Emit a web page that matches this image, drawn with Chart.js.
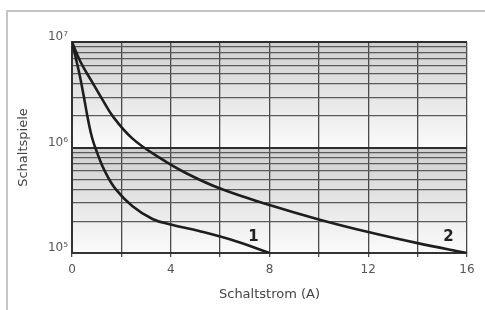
<!DOCTYPE html>
<html>
<head>
<meta charset="utf-8">
<script src="https://cdn.jsdelivr.net/npm/chart.js@4.4.1/dist/chart.umd.min.js"></script>
<style>
  body { margin: 0; background: #fff; }
  #wrap { position: relative; width: 485px; height: 310px; }
  #frame { position: absolute; left: 6px; top: 10px; right: 0; bottom: 0;
           border-top: 2px solid #c4c4c4; border-left: 2px solid #c4c4c4; }
  canvas { position: absolute; left: 0; top: 0; }
</style>
</head>
<body>
<div id="wrap">
  <div id="frame"></div>
  <canvas id="chart" width="485" height="310"></canvas>
</div>
<script>
// Kurve 1 (bis 8 A) und Kurve 2 (bis 16 A)
const current1 = [0, 0.163, 0.327, 0.49, 0.653, 0.816, 1.02, 1.31, 1.76, 2.44, 3.26, 4, 5.22, 6.61, 8];
const cycles1 = [1e7, 6.9e6, 4.66e6, 2.94e6, 1.82e6, 1.23e6, 8.9e5, 6.1e5, 4.05e5, 2.79e5, 2.1e5, 1.86e5, 1.6e5, 1.3e5, 1.0e5];

const current2 = [0, 0.327, 0.776, 1.21, 1.67, 2.44, 3.51, 4.61, 6, 8, 10, 12, 14, 16];
const cycles2 = [1e7, 6.61e6, 4.32e6, 2.91e6, 1.95e6, 1.22e6, 8.1e5, 5.73e5, 4.08e5, 2.85e5, 2.08e5, 1.58e5, 1.24e5, 1.0e5];

const xTickLabels = [0, 4, 8, 12, 16];
const decades = [1e5, 1e6, 1e7];
const superscripts = { 5: '\u2075', 6: '\u2076', 7: '\u2077' };

const curveLabels = ['1', '2'];
const curveLabelX = [7.35, 15.25];
const curveLabelY = [1.42e5, 1.42e5];

function toPoints(xs, ys) {
    return xs.map((x, i) => ({ x: x, y: ys[i] }));
}

function isDecade(v) {
    return decades.some(d => Math.abs(d - v) < 1);
}

// grauer Verlauf je Dekade, vor dem Gitter gezeichnet
const decadeShading = {
    id: 'decadeShading',
    beforeDraw(chart) {
        const { ctx, chartArea, scales } = chart;
        ctx.save();
        for (let i = 0; i < decades.length - 1; i++) {
            const yBottom = scales.y.getPixelForValue(decades[i]);
            const yTop = scales.y.getPixelForValue(decades[i + 1]);
            const grad = ctx.createLinearGradient(0, yTop, 0, yBottom);
            grad.addColorStop(0, '#cfcfcf');
            grad.addColorStop(1, '#fbfbfb');
            ctx.fillStyle = grad;
            ctx.fillRect(chartArea.left, yTop, chartArea.right - chartArea.left, yBottom - yTop);
        }
        ctx.restore();
    }
};

const curveNumbers = {
    id: 'curveNumbers',
    afterDatasetsDraw(chart) {
        const { ctx, scales } = chart;
        ctx.save();
        ctx.font = 'bold 15px "DejaVu Sans"';
        ctx.fillStyle = '#222';
        ctx.textAlign = 'center';
        ctx.textBaseline = 'middle';
        for (let i = 0; i < curveLabels.length; i++) {
            ctx.fillText(curveLabels[i], scales.x.getPixelForValue(curveLabelX[i]), scales.y.getPixelForValue(curveLabelY[i]));
        }
        ctx.restore();
    }
};

new Chart(document.getElementById('chart'), {
    type: 'line',
    data: {
        datasets: [
            {
                data: toPoints(current1, cycles1),
                borderColor: '#1e1e1e',
                borderWidth: 2.6,
                pointRadius: 0,
                tension: 0.4
            },
            {
                data: toPoints(current2, cycles2),
                borderColor: '#1e1e1e',
                borderWidth: 2.6,
                pointRadius: 0,
                tension: 0.4
            }
        ]
    },
    options: {
        responsive: false,
        animation: false,
        layout: { padding: { left: 8, top: 42, right: 18, bottom: 4 } },
        plugins: { legend: { display: false }, tooltip: { enabled: false } },
        scales: {
            x: {
                type: 'linear',
                min: 0,
                max: 16,
                afterFit(scale) { scale.height = 53; },
                ticks: {
                    stepSize: 2,
                    padding: 6,
                    color: '#555',
                    font: { family: 'DejaVu Sans', size: 12 },
                    callback: v => xTickLabels.includes(v) ? String(v) : ''
                },
                grid: {
                    color: '#4a4a4a',
                    lineWidth: 1.3,
                    drawTicks: true,
                    tickLength: 4
                },
                border: { color: '#333', width: 2 },
                title: {
                    display: true,
                    text: 'Schaltstrom (A)',
                    color: '#444',
                    padding: { top: 0 },
                    font: { family: 'DejaVu Sans', size: 13 }
                }
            },
            y: {
                type: 'logarithmic',
                min: 1e5,
                max: 1e7,
                afterFit(scale) { scale.width = 64; },
                afterBuildTicks(scale) {
                    const ticks = [];
                    for (let e = 5; e < 7; e++) {
                        for (let m = 1; m < 10; m++) ticks.push({ value: m * Math.pow(10, e) });
                    }
                    ticks.push({ value: 1e7 });
                    scale.ticks = ticks;
                },
                ticks: {
                    autoSkip: false,
                    padding: 4,
                    labelOffset: -5,
                    color: '#555',
                    font: { family: 'DejaVu Sans', size: 12 },
                    callback: v => isDecade(v) ? '10' + superscripts[Math.round(Math.log10(v))] : ''
                },
                grid: {
                    color: ctx => isDecade(ctx.tick.value) ? '#2e2e2e' : '#5a5a5a',
                    lineWidth: ctx => isDecade(ctx.tick.value) ? 2 : 1.2,
                    drawTicks: false
                },
                border: { color: '#333', width: 2 },
                title: {
                    display: true,
                    text: 'Schaltspiele',
                    color: '#444',
                    padding: { top: 8, bottom: 4 },
                    font: { family: 'DejaVu Sans', size: 13 }
                }
            }
        }
    },
    plugins: [decadeShading, curveNumbers]
});
</script>
</body>
</html>
